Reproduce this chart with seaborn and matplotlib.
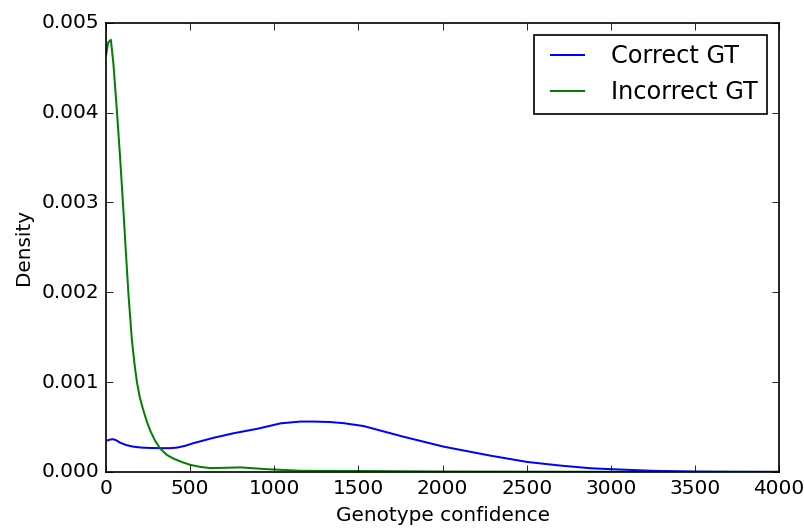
import numpy as np
import pandas as pd
import matplotlib
matplotlib.use("Agg")
import matplotlib.pyplot as plt
import seaborn as sns

# density curves
correct_x = [0, 20, 40, 60, 83, 120, 163, 212, 262, 321, 380, 421, 470, 520, 640, 758,
             900, 1036, 1155, 1234, 1330, 1412, 1531, 1650, 1770, 2008, 2286, 2504, 2700,
             2881, 3000, 3250, 3500, 3750, 4000]
correct_y = [0.000345, 0.000358, 0.000364, 0.000352, 0.000325, 0.000298, 0.00028, 0.00027,
             0.000266, 0.000264, 0.000264, 0.00027, 0.00029, 0.00032, 0.00038, 0.00043,
             0.00048, 0.00054, 0.00056, 0.00056, 0.000555, 0.000542, 0.00051, 0.00045,
             0.00039, 0.00028, 0.00018, 0.00011, 0.00007, 0.00004, 0.00003, 0.000012,
             0.000004, 0.000001, 0.0]

incorrect_x = [0, 12, 28, 43, 64, 83, 103, 115, 133, 153, 170, 183, 200, 222, 242, 262,
               290, 321, 360, 400, 450, 500, 560, 619, 700, 798, 956, 1155, 1500, 2000,
               2500, 3000, 3500, 4000]
incorrect_y = [0.00464, 0.00478, 0.00481, 0.00455, 0.00402, 0.00350, 0.00290, 0.00252,
               0.00197, 0.00147, 0.00118, 0.00100, 0.00083, 0.00068, 0.00056, 0.00046,
               0.00035, 0.00026, 0.00019, 0.000148, 0.00011, 0.000078, 0.000055, 0.000042,
               0.000045, 0.00005, 0.00003, 0.000012, 0.00001, 0.000004, 0.000002,
               0.000001, 0.0, 0.0]

labels = ["Correct GT", "Incorrect GT"]

plt.style.use("classic")
plt.rcParams["figure.facecolor"] = "white"
plt.rcParams["savefig.facecolor"] = "white"
plt.rcParams["font.family"] = ["DejaVu Sans"]

df_c = pd.DataFrame({"x": correct_x, "y": correct_y})
df_i = pd.DataFrame({"x": incorrect_x, "y": incorrect_y})

fig, ax = plt.subplots(figsize=(6.7, 529 / 120), dpi=120)
sns.lineplot(data=df_c, x="x", y="y", color="b", lw=1.2, label=labels[0], ax=ax)
sns.lineplot(data=df_i, x="x", y="y", color="g", lw=1.2, label=labels[1], ax=ax)

ax.set_xlim(0, 4000)
ax.set_ylim(0, 0.005)
ax.set_xlabel("Genotype confidence")
ax.set_ylabel("Density")
ax.legend(loc="upper right", fontsize="large")

fig.subplots_adjust(left=0.132, right=0.969, bottom=0.108, top=0.957)
fig.savefig("out.png", dpi=120)
